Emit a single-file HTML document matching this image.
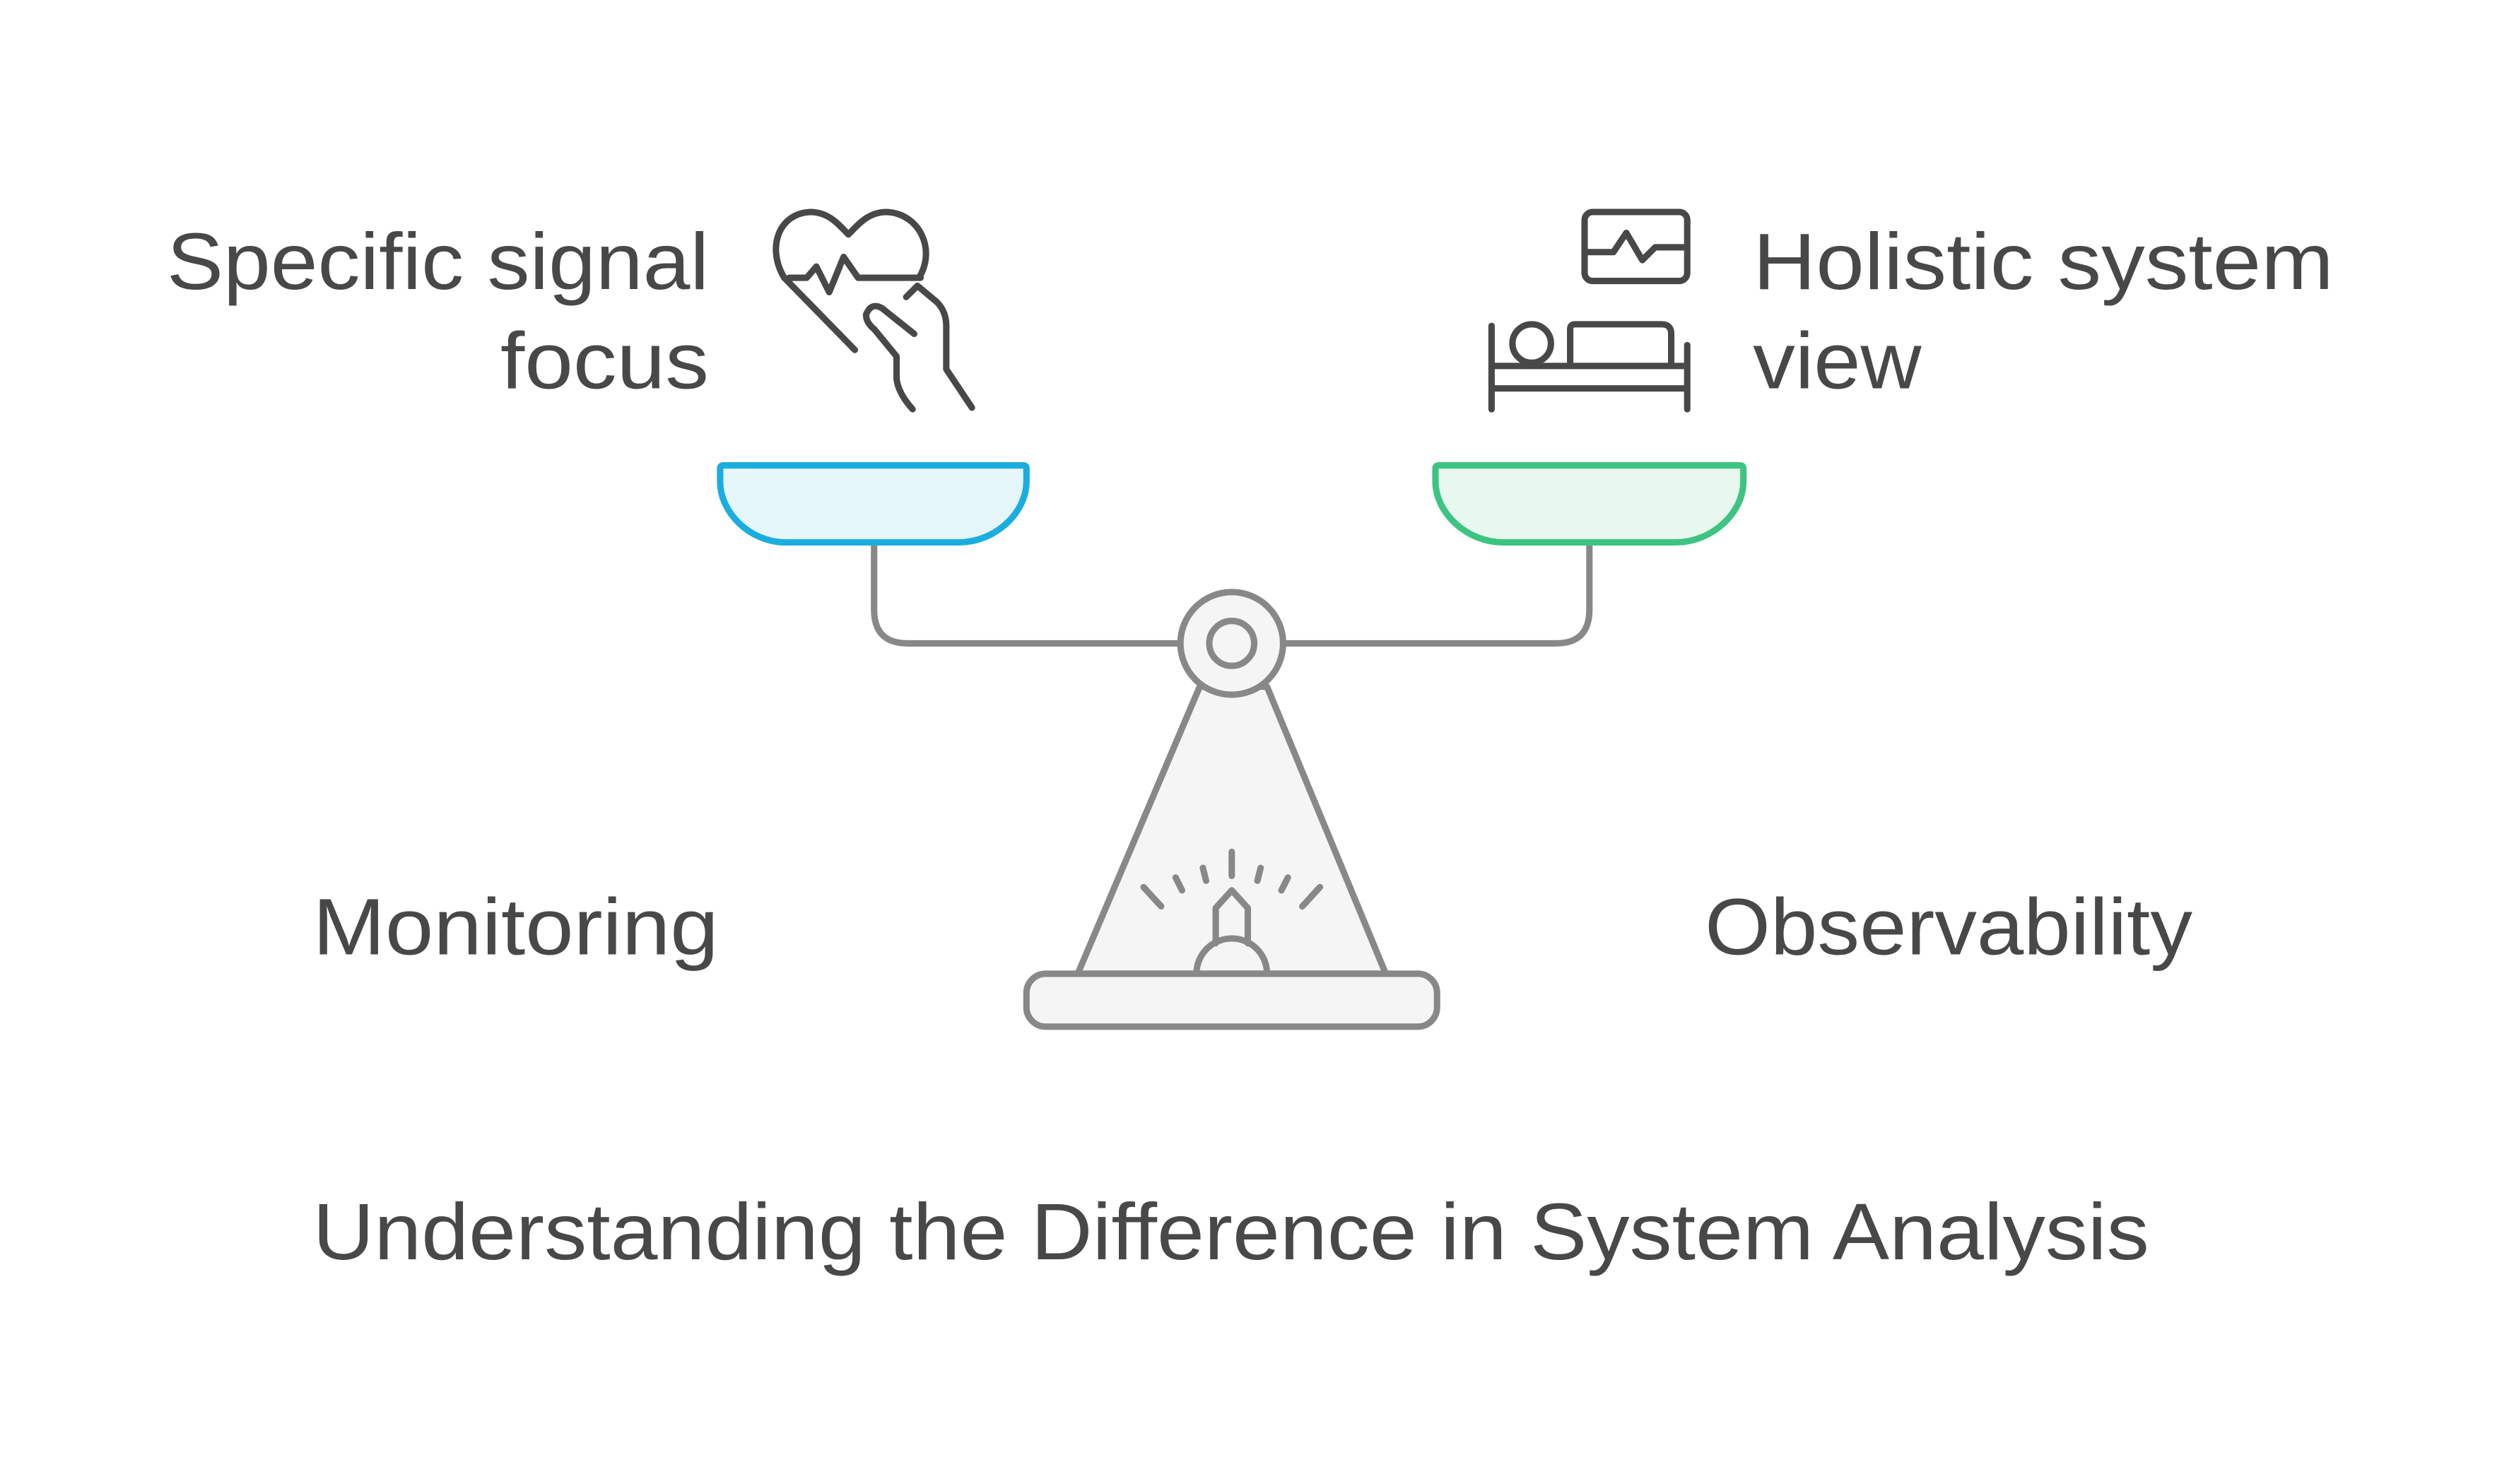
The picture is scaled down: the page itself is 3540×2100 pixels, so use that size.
<!DOCTYPE html>
<html><head><style>html,body{margin:0;padding:0;background:#fff;}svg{display:block}</style></head>
<body>
<svg width="3540" height="2100" viewBox="0 0 1560 925" xmlns="http://www.w3.org/2000/svg">
<rect width="1560" height="925" fill="#fff"/>
<g font-family="Liberation Sans, sans-serif" font-size="50" fill="#484848">
<text x="442" y="180" text-anchor="end" textLength="338" lengthAdjust="spacingAndGlyphs">Specific signal</text>
<text x="442" y="242" text-anchor="end" textLength="130" lengthAdjust="spacingAndGlyphs">focus</text>
<text x="1093" y="180" textLength="362" lengthAdjust="spacingAndGlyphs">Holistic system</text>
<text x="1093" y="242" textLength="105" lengthAdjust="spacingAndGlyphs">view</text>
<text x="195" y="595" textLength="253" lengthAdjust="spacingAndGlyphs">Monitoring</text>
<text x="1063" y="595" textLength="304" lengthAdjust="spacingAndGlyphs">Observability</text>
<text x="195" y="785" textLength="1145" lengthAdjust="spacingAndGlyphs">Understanding the Difference in System Analysis</text>
</g>
<g fill="none" stroke="#888" stroke-width="4" stroke-linecap="round" stroke-linejoin="round">
<path d="M545,338 V380 Q545,401 566,401 H736"/>
<path d="M800,401 H970 Q991,401 991,380 V338"/>
<path d="M748,428 L672,607 H864 L790,428 Z" fill="#f5f5f5"/>
<rect x="640" y="607" width="256" height="33" rx="12" fill="#f5f5f5"/>
<circle cx="768" cy="401" r="32" fill="#f5f5f5"/>
<circle cx="768" cy="401" r="14" fill="#f5f5f5"/>
<path d="M746,607 A22,22 0 0 1 790,607"/>
<path d="M758,588 V566 L768,555 L778,566 V588"/>
<path d="M768,531 V546 M750,541 L752,549 M786,541 L784,549 M733,547 L737,555 M803,547 L799,555 M713,553 L724,565 M823,553 L812,565"/>
</g>
<path d="M449,292 Q449,290 451,290 H638 Q640,290 640,292 V300 C640,320 620,338 598,338 H490 C468,338 449,320 449,300 Z" fill="#e6f7fc" stroke="#1aaee0" stroke-width="4"/>
<path d="M895,292 Q895,290 897,290 H1085 Q1087,290 1087,292 V300 C1087,320 1067,338 1045,338 H937 C915,338 895,320 895,300 Z" fill="#e8f8ef" stroke="#3dc482" stroke-width="4"/>
<g fill="none" stroke="#484848" stroke-width="4" stroke-linecap="round" stroke-linejoin="round">
<path d="M489,173 C478,155 485,133 505,132 C517,132 523,140 529,146 C535,140 541,132 553,132 C573,133 584,155 573,173"/>
<path d="M492,173 H503 L509,166 L517,182 L526,160 L535,173 H574"/>
<path d="M489,173 L533,218"/>
<path d="M565,185 L572,178 L584,188 Q590,194 590,203 V230 L606,254"/>
<path d="M570,208 L550,192 Q543,188 540,196 Q540,201 545,205 L559,222 V236 Q560,245 569,255"/>
<rect x="988" y="132" width="64" height="43" rx="5"/>
<path d="M990,157 H1006 L1014,145 L1024,162 L1032,154 H1050"/>
<path d="M930,203 V255 M1052,215 V255 M930,228 H1052 M930,242 H1052"/>
<circle cx="955" cy="214" r="12"/>
<path d="M979,226 V205 Q979,202 982,202 H1036 Q1042,202 1042,208 V226"/>
</g>
</svg>
</body></html>
